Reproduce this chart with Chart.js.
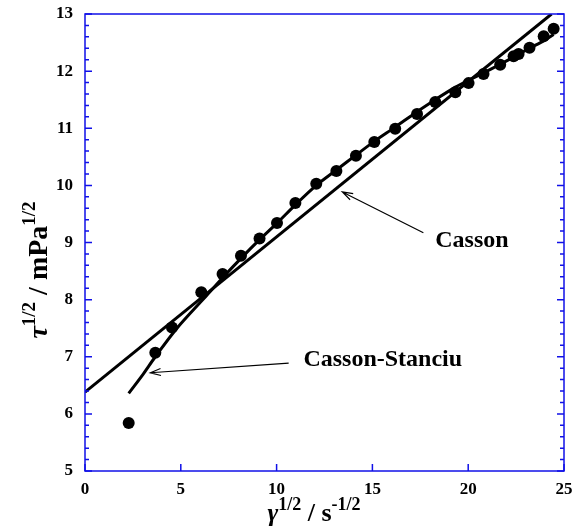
<!DOCTYPE html>
<html>
<head>
<meta charset="utf-8">
<script src="https://cdn.jsdelivr.net/npm/chart.js@4"></script>
<style>
  html, body { margin: 0; padding: 0; background: #ffffff; }
  #wrap { position: relative; width: 578px; height: 529px; }
</style>
</head>
<body>
<div id="wrap"><canvas id="chart"></canvas></div>
<script>
// measured points (gamma^1/2 vs tau^1/2)
const dotX = [2.28, 3.67, 4.54, 6.07, 7.18, 8.14, 9.11, 10.02, 10.98, 12.07, 13.12, 14.14, 15.10, 16.19, 17.33, 18.28, 19.33, 20.02, 20.80, 21.67, 22.37, 22.63, 23.20, 23.94, 24.46];
const dotY = [5.84, 7.07, 7.51, 8.13, 8.45, 8.77, 9.07, 9.34, 9.69, 10.03, 10.25, 10.52, 10.76, 10.99, 11.25, 11.46, 11.63, 11.79, 11.95, 12.11, 12.26, 12.30, 12.41, 12.61, 12.74];

// Casson fit (straight line)
const cassonX = [0, 24.35];
const cassonY = [6.38, 13.0];

// Casson-Stanciu fit (curve)
const stanciuX = [2.28, 3.00, 3.67, 4.80, 6.37, 7.23, 8.19, 9.11, 10.02, 10.98, 12.07, 13.12, 14.14, 15.10, 16.19, 17.33, 18.28, 19.33, 20.02, 20.80, 21.67, 22.40, 23.20, 23.94, 24.46];
const stanciuY = [6.36, 6.68, 7.00, 7.50, 8.08, 8.40, 8.74, 9.05, 9.34, 9.66, 10.00, 10.27, 10.53, 10.77, 11.02, 11.29, 11.50, 11.72, 11.84, 11.97, 12.12, 12.25, 12.40, 12.53, 12.64];

// axis ticks
const xTicks = [0, 5, 10, 15, 20, 25];
const yTicks = [5, 6, 7, 8, 9, 10, 11, 12, 13];

const axisBlue = '#1010e8';
const serif = "'Liberation Serif', 'Times New Roman', serif";

const toPts = (xs, ys) => xs.map((x, i) => ({ x: x, y: ys[i] }));

// draws a run of text pieces (normal + superscript) starting at x, baseline y
function drawRich(ctx, parts, x, y) {
    let cx = x;
    parts.forEach(p => {
        ctx.font = (p.italic ? 'italic ' : '') + 'bold ' + p.size + 'px ' + serif;
        ctx.fillText(p.text, cx, y + (p.dy || 0));
        cx += ctx.measureText(p.text).width;
    });
}
function richWidth(ctx, parts) {
    let w = 0;
    parts.forEach(p => {
        ctx.font = (p.italic ? 'italic ' : '') + 'bold ' + p.size + 'px ' + serif;
        w += ctx.measureText(p.text).width;
    });
    return w;
}

function arrow(ctx, x1, y1, x2, y2) {
    const ang = Math.atan2(y2 - y1, x2 - x1);
    const len = 11, spread = 0.32;
    ctx.beginPath();
    ctx.moveTo(x1, y1);
    ctx.lineTo(x2, y2);
    ctx.moveTo(x2 - len * Math.cos(ang - spread), y2 - len * Math.sin(ang - spread));
    ctx.lineTo(x2, y2);
    ctx.lineTo(x2 - len * Math.cos(ang + spread), y2 - len * Math.sin(ang + spread));
    ctx.stroke();
}

const framePlugin = {
    id: 'frame',
    afterDraw(chart) {
        const { ctx, chartArea: a, scales: { x, y } } = chart;
        ctx.save();

        // blue frame
        ctx.strokeStyle = axisBlue;
        ctx.lineWidth = 1.5;
        ctx.strokeRect(a.left, a.top, a.right - a.left, a.bottom - a.top);

        // x ticks, inward
        ctx.beginPath();
        xTicks.forEach(v => {
            const px = x.getPixelForValue(v);
            ctx.moveTo(px, a.bottom);
            ctx.lineTo(px, a.bottom - 7);
        });
        // y ticks on both sides, minor every 0.2
        for (let i = 0; i <= 40; i++) {
            const py = y.getPixelForValue(5 + i * 0.2);
            const len = i % 5 === 0 ? 7 : 4;
            ctx.moveTo(a.left, py);
            ctx.lineTo(a.left + len, py);
            ctx.moveTo(a.right, py);
            ctx.lineTo(a.right - len, py);
        }
        ctx.stroke();

        // annotations
        ctx.strokeStyle = '#000';
        ctx.fillStyle = '#000';
        ctx.lineWidth = 1.2;
        arrow(ctx, x.getPixelForValue(17.66), y.getPixelForValue(9.17),
                   x.getPixelForValue(13.43), y.getPixelForValue(9.885));
        arrow(ctx, x.getPixelForValue(10.63), y.getPixelForValue(6.89),
                   x.getPixelForValue(3.41), y.getPixelForValue(6.72));
        ctx.font = 'bold 24px ' + serif;
        ctx.textBaseline = 'middle';
        ctx.fillText('Casson', x.getPixelForValue(18.28), y.getPixelForValue(9.03));
        ctx.fillText('Casson-Stanciu', x.getPixelForValue(11.4), y.getPixelForValue(6.94));

        // axis titles with superscripts
        ctx.textBaseline = 'alphabetic';
        const xTitle = [
            { text: 'γ', size: 26, italic: true },
            { text: '1/2', size: 18, dy: -11 },
            { text: ' / s', size: 26 },
            { text: '-1/2', size: 18, dy: -11 }
        ];
        const xw = richWidth(ctx, xTitle);
        drawRich(ctx, xTitle, 314 - xw / 2, 521);

        const yTitle = [
            { text: 'τ', size: 28, italic: true },
            { text: '1/2', size: 19, dy: -12 },
            { text: ' / mPa', size: 28 },
            { text: '1/2', size: 19, dy: -12 }
        ];
        const yw = richWidth(ctx, yTitle);
        ctx.translate(47, 270);
        ctx.rotate(-Math.PI / 2);
        drawRich(ctx, yTitle, -yw / 2, 0);

        ctx.restore();
    }
};

const ctx = document.getElementById('chart').getContext('2d');
new Chart(ctx, {
    type: 'scatter',
    data: {
        datasets: [
            {
                label: 'Casson',
                data: toPts(cassonX, cassonY),
                showLine: true,
                borderColor: '#000',
                borderWidth: 3,
                pointRadius: 0
            },
            {
                label: 'Casson-Stanciu',
                data: toPts(stanciuX, stanciuY),
                showLine: true,
                borderColor: '#000',
                borderWidth: 3,
                tension: 0.3,
                pointRadius: 0
            },
            {
                label: 'data',
                data: toPts(dotX, dotY),
                backgroundColor: '#000',
                borderColor: '#000',
                pointRadius: 6,
                pointBorderWidth: 0
            }
        ]
    },
    options: {
        responsive: true,
        maintainAspectRatio: false,
        animation: false,
        layout: { padding: { top: 14, right: 14, left: 0, bottom: 0 } },
        scales: {
            x: {
                type: 'linear',
                min: 0,
                max: 25,
                afterBuildTicks: s => { s.ticks = xTicks.map(v => ({ value: v })); },
                afterFit: s => { s.height = 58; s.paddingLeft = 0; s.paddingRight = 0; },
                grid: { display: false, drawTicks: false },
                border: { display: false },
                ticks: {
                    color: '#000',
                    padding: 8,
                    maxRotation: 0,
                    font: { family: serif, size: 17, weight: 'bold' }
                }
            },
            y: {
                type: 'linear',
                min: 5,
                max: 13,
                afterBuildTicks: s => { s.ticks = yTicks.map(v => ({ value: v })); },
                afterFit: s => { s.width = 85; s.paddingTop = 0; s.paddingBottom = 0; },
                grid: { display: false, drawTicks: false },
                border: { display: false },
                ticks: {
                    color: '#000',
                    padding: 12,
                    font: { family: serif, size: 17, weight: 'bold' }
                }
            }
        },
        plugins: {
            legend: { display: false },
            tooltip: { enabled: false }
        }
    },
    plugins: [framePlugin]
});
</script>
</body>
</html>
